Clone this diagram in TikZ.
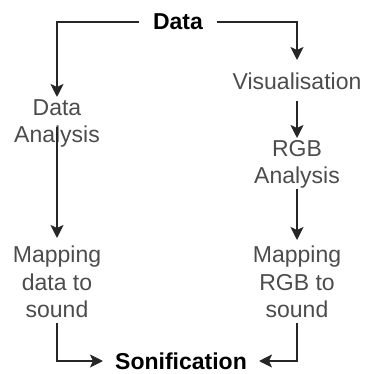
\documentclass[tikz,border=0pt]{standalone}
\usepackage{fontspec}
\setmainfont{Liberation Sans}
\usetikzlibrary{arrows.meta}
\begin{document}
\begin{tikzpicture}[x=1pt,y=-1pt,
  lbl/.style={inner sep=0pt, align=center, text=black!70, font=\fontsize{23}{27.5}\selectfont},
  bold/.style={inner xsep=14pt, inner ysep=0pt, text=black, font=\fontsize{23}{27.5}\selectfont\bfseries},
  conn/.style={draw=black!85, line width=1.8pt, -{Stealth[length=13pt,width=13pt,inset=3pt]}},
  plain/.style={draw=black!85, line width=1.8pt}]
\useasboundingbox (0,0) rectangle (366,374);
% nodes
\node[bold] (data) at (178,22) {Data};
\node[lbl, anchor=north] (vis) at (297,73) {Visualisation};
\node[lbl, anchor=north] (rgb) at (297,140) {RGB\\Analysis};
\node[lbl, anchor=north] (da) at (57,99) {Data\\Analysis};
\node[lbl, anchor=north] (md) at (57,246) {Mapping\\data to\\sound};
\node[lbl, anchor=north] (mr) at (297,246) {Mapping\\RGB to\\sound};
\node[bold, inner xsep=12pt] (son) at (181,361) {Sonification};
% connectors
\draw[conn, shorten >=2pt] (data.west) -| (da.north);
\draw[conn, shorten >=13pt] (data.east) -| (vis.north);
\draw[conn, shorten <=11pt, shorten >=2pt] (vis.south) -- (rgb.north);
\draw[conn, shorten >=6pt] (rgb.south) -- (mr.north);
\draw[conn, shorten <=-20pt, shorten >=8pt] (da.south) -- (md.north);
\draw[conn, shorten <=5pt] (md.south) |- (son.west);
\draw[conn, shorten <=5pt] (mr.south) |- (son.east);
\end{tikzpicture}
\end{document}
